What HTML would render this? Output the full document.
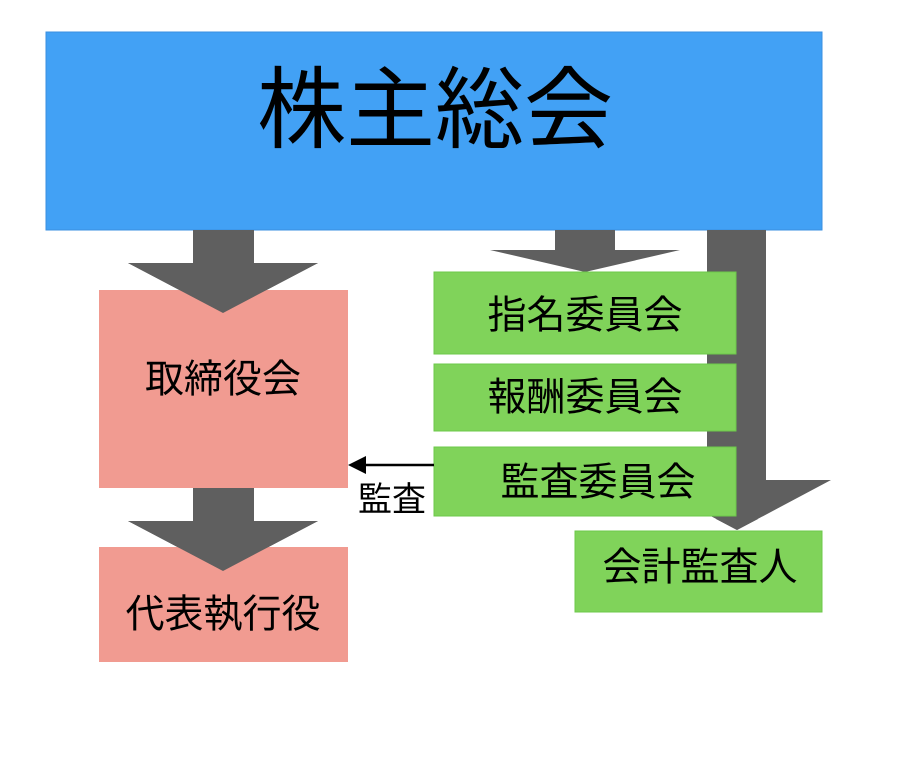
<!DOCTYPE html>
<html><head><meta charset="utf-8"><style>
html,body{margin:0;padding:0;background:#fff}
svg text{font-family:"Liberation Sans","Noto Sans CJK JP",sans-serif;fill:#000}
</style></head><body>
<svg width="900" height="760" viewBox="0 0 900 760" xmlns="http://www.w3.org/2000/svg">
<rect x="0" y="0" width="900" height="760" fill="#fff"/>
<rect x="46" y="32" width="776" height="198" fill="#42a1f5" stroke="#3a8fe0" stroke-width="1"/>
<text x="435" y="110" font-size="89" text-anchor="middle" dominant-baseline="central">株主総会</text>
<!-- right long arrow -->
<polygon points="707,230 766,230 766,480 831,480 737,530 643,480 707,480" fill="#5f5f5f"/>
<!-- left arrows -->
<polygon points="193,230 254,230 254,263 318,263 223,313 128,263 193,263" fill="#5f5f5f"/>
<rect x="99" y="290" width="249" height="198" fill="#f19b91"/>
<polygon points="223,313 128,263 318,263" fill="#5f5f5f"/>
<text x="223" y="380" font-size="39" text-anchor="middle" dominant-baseline="central">取締役会</text>
<polygon points="193,488 254,488 254,521 318,521 223,571 128,521 193,521" fill="#5f5f5f"/>
<rect x="99" y="547" width="249" height="115" fill="#f19b91"/>
<polygon points="223,571 128,521 318,521" fill="#5f5f5f"/>
<text x="223" y="615" font-size="39" text-anchor="middle" dominant-baseline="central">代表執行役</text>
<!-- middle arrow -->
<polygon points="555,230 615,230 615,250 680,250 585,272 490,250 555,250" fill="#5f5f5f"/>
<rect x="434" y="272" width="302" height="82" fill="#80d35a" stroke="#6cc84a" stroke-width="1"/>
<text x="585" y="316" font-size="39" text-anchor="middle" dominant-baseline="central">指名委員会</text>
<rect x="434" y="364" width="302" height="67" fill="#80d35a" stroke="#6cc84a" stroke-width="1"/>
<text x="585" y="398" font-size="39" text-anchor="middle" dominant-baseline="central">報酬委員会</text>
<rect x="434" y="447" width="302" height="69" fill="#80d35a" stroke="#6cc84a" stroke-width="1"/>
<text x="598" y="483" font-size="39" text-anchor="middle" dominant-baseline="central">監査委員会</text>
<polygon points="737,530 716,519 758,519" fill="#5f5f5f"/>
<rect x="575" y="531" width="247" height="81" fill="#80d35a" stroke="#6cc84a" stroke-width="1"/>
<text x="700" y="568" font-size="39" text-anchor="middle" dominant-baseline="central">会計監査人</text>
<!-- audit arrow -->
<line x1="434" y1="465" x2="364" y2="465" stroke="#000" stroke-width="2.5"/>
<polygon points="348,465 366,456 366,474" fill="#000"/>
<text x="392" y="500" font-size="34" text-anchor="middle" dominant-baseline="central">監査</text>
</svg>
</body></html>
